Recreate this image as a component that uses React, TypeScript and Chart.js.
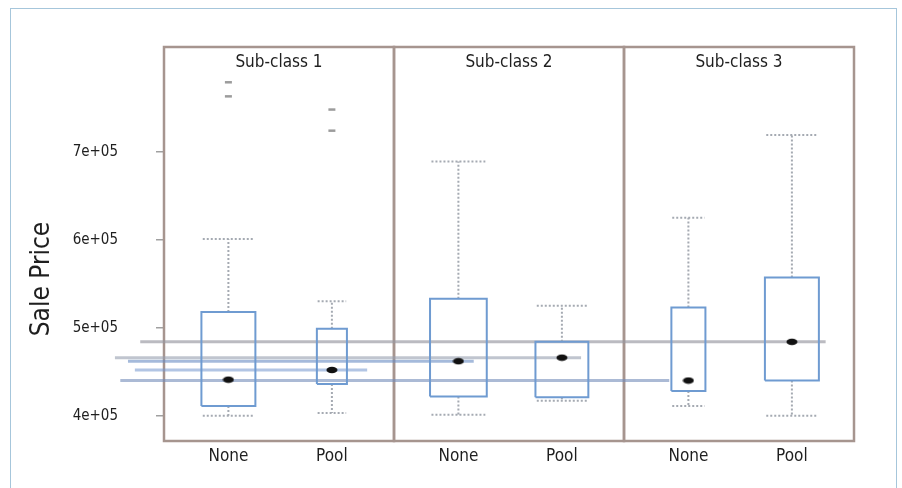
import React, { useEffect, useRef } from 'react';
import { Chart, registerables } from 'chart.js';

Chart.register(...registerables);

// ---------- data ----------
const panelTitles = ['Sub-class 1', 'Sub-class 2', 'Sub-class 3'];
const groupLabels = ['None', 'Pool'];
// one entry per box: Sub-class 1 None, Sub-class 1 Pool, Sub-class 2 None, ...
const whiskerLow = [400000, 403000, 401000, 417000, 411000, 400000];
const q1 = [411000, 436000, 422000, 421000, 428000, 440000];
const medians = [441000, 452000, 462000, 466000, 440000, 484000];
const q3 = [518000, 499000, 533000, 484000, 523000, 557000];
const whiskerHigh = [601000, 530000, 689000, 525000, 625000, 719000];
const outliers = [[779000, 763000], [748000, 724000], [], [], [], []];
const yTickValues = [400000, 500000, 600000, 700000];
const yTickLabels = ['4e+05', '5e+05', '6e+05', '7e+05'];
const yAxisTitle = 'Sale Price';
// boxes whose median carries a long horizontal guide line
const guideBoxes = [5, 3, 2, 1, 4];

// ---------- layout / style ----------
const PANEL_SPAN = 3;
const GROUP_OFFSET = [0.84, 2.19];
const BOX_HALF = [0.352, 0.196, 0.37, 0.345, 0.222, 0.352];
const GUIDE_SPAN = [[-0.31, 8.63], [-0.64, 5.44], [-0.47, 4.04], [-0.38, 2.65], [-0.57, 6.59]];
const GUIDE_COLORS = [
  'rgba(150,150,160,0.65)',
  'rgba(150,158,175,0.6)',
  'rgba(105,140,195,0.6)',
  'rgba(115,150,205,0.55)',
  'rgba(115,140,185,0.6)',
];
const BOX_COLOR = '#6f9bd1';
const WHISKER_COLOR = '#a5aab2';
const PANEL_COLOR = '#a6958f';
const TEXT_COLOR = '#1f1f1f';
const NARROW = '"Liberation Sans Narrow", "DejaVu Sans Condensed", sans-serif';
const COND = '"DejaVu Sans Condensed", "Liberation Sans Narrow", sans-serif';

const centerOf = (i: number) => Math.floor(i / 2) * PANEL_SPAN + GROUP_OFFSET[i % 2];

export default function App() {
  const ref = useRef<HTMLCanvasElement | null>(null);

  useEffect(() => {
    if (!ref.current) return;

    const dot = document.createElement('canvas');
    dot.width = 12;
    dot.height = 8;
    const dc = dot.getContext('2d')!;
    dc.fillStyle = '#111';
    dc.beginPath();
    dc.ellipse(6, 4, 5.5, 3.3, 0, 0, Math.PI * 2);
    dc.fill();

    const datasets: any[] = [];

    // guide lines through medians
    guideBoxes.forEach((b, k) => {
      datasets.push({
        type: 'line',
        data: [
          { x: GUIDE_SPAN[k][0], y: medians[b] },
          { x: GUIDE_SPAN[k][1], y: medians[b] },
        ],
        borderColor: GUIDE_COLORS[k],
        borderWidth: 3,
        pointRadius: 0,
        fill: false,
        clip: false,
        order: 6,
      });
    });

    medians.forEach((_, i) => {
      const c = centerOf(i);
      const h = BOX_HALF[i];
      const cap = h * 0.95;
      // whiskers (dashed) + caps
      datasets.push({
        type: 'line',
        data: [
          { x: c, y: q3[i] }, { x: c, y: whiskerHigh[i] }, { x: c, y: null },
          { x: c - cap, y: whiskerHigh[i] }, { x: c + cap, y: whiskerHigh[i] }, { x: c, y: null },
          { x: c, y: q1[i] }, { x: c, y: whiskerLow[i] }, { x: c, y: null },
          { x: c - cap, y: whiskerLow[i] }, { x: c + cap, y: whiskerLow[i] },
        ],
        borderColor: WHISKER_COLOR,
        borderWidth: 2,
        borderDash: [2, 2],
        pointRadius: 0,
        fill: false,
        spanGaps: false,
        order: 5,
      });
      // box
      datasets.push({
        type: 'line',
        data: [
          { x: c - h, y: q1[i] }, { x: c - h, y: q3[i] },
          { x: c + h, y: q3[i] }, { x: c + h, y: q1[i] }, { x: c - h, y: q1[i] },
        ],
        borderColor: BOX_COLOR,
        borderWidth: 2,
        pointRadius: 0,
        fill: false,
        order: 3,
      });
      // outliers
      if (outliers[i].length) {
        datasets.push({
          type: 'scatter',
          data: outliers[i].map((v) => ({ x: c, y: v })),
          pointStyle: 'line',
          pointRadius: 3.5,
          borderWidth: 2.5,
          borderColor: '#9c9c9c',
          order: 2,
        });
      }
    });

    // median dots
    datasets.push({
      type: 'scatter',
      data: medians.map((m, i) => ({ x: centerOf(i), y: m })),
      pointStyle: dot,
      pointRadius: 5,
      order: 1,
    });

    const xTickValues = medians.map((_, i) => centerOf(i));

    const panelPlugin = {
      id: 'panels',
      beforeDatasetsDraw(chart: any) {
        const { ctx, chartArea, scales } = chart;
        ctx.save();
        ctx.strokeStyle = PANEL_COLOR;
        ctx.lineWidth = 2.5;
        panelTitles.forEach((_, p) => {
          const l = scales.x.getPixelForValue(p * PANEL_SPAN);
          const r = scales.x.getPixelForValue((p + 1) * PANEL_SPAN);
          ctx.strokeRect(l, chartArea.top, r - l, chartArea.bottom - chartArea.top);
        });
        ctx.restore();
      },
      afterDraw(chart: any) {
        const { ctx, chartArea, scales } = chart;
        ctx.save();
        ctx.fillStyle = TEXT_COLOR;
        ctx.font = `17px ${NARROW}`;
        ctx.textAlign = 'center';
        ctx.textBaseline = 'middle';
        panelTitles.forEach((t, p) => {
          const cx = scales.x.getPixelForValue(p * PANEL_SPAN + PANEL_SPAN / 2);
          ctx.fillText(t, cx, chartArea.top + 16);
        });
        ctx.translate(42, 279);
        ctx.rotate(-Math.PI / 2);
        ctx.font = `26px ${NARROW}`;
        ctx.fillText(yAxisTitle, 0, 0);
        ctx.restore();
      },
    };

    const chart = new Chart(ref.current, {
      type: 'scatter',
      data: { datasets },
      options: {
        responsive: false,
        animation: false,
        devicePixelRatio: 1,
        layout: { padding: { left: 0, top: 37, right: 48, bottom: 0 } },
        plugins: { legend: { display: false }, tooltip: { enabled: false } },
        scales: {
          x: {
            type: 'linear',
            min: 0,
            max: PANEL_SPAN * panelTitles.length,
            afterBuildTicks: (s: any) => {
              s.ticks = xTickValues.map((v) => ({ value: v }));
            },
            afterFit: (s: any) => {
              s.height = 45;
            },
            ticks: {
              autoSkip: false,
              maxRotation: 0,
              padding: 5,
              color: TEXT_COLOR,
              font: { family: NARROW, size: 17 },
              callback: (_v: any, i: number) => groupLabels[i % 2],
            },
            grid: { display: false, drawTicks: false },
            border: { display: false },
          },
          y: {
            type: 'linear',
            min: 371300,
            max: 819100,
            afterBuildTicks: (s: any) => {
              s.ticks = yTickValues.map((v) => ({ value: v }));
            },
            afterFit: (s: any) => {
              s.width = 164;
            },
            ticks: {
              padding: 38,
              color: TEXT_COLOR,
              font: { family: COND, size: 15 },
              callback: (_v: any, i: number) => yTickLabels[i],
            },
            grid: {
              display: true,
              drawOnChartArea: false,
              drawTicks: true,
              tickLength: 8,
              color: '#a0a0a0',
              lineWidth: 1.5,
            },
            border: { display: false },
          },
        },
      },
      plugins: [panelPlugin],
    } as any);

    return () => chart.destroy();
  }, []);

  return (
    <div style={{ position: 'fixed', left: 0, top: 0, width: 902, height: 488, background: '#fff', overflow: 'hidden' }}>
      <div
        style={{
          position: 'absolute',
          left: 10,
          top: 8,
          width: 887,
          height: 500,
          border: '1.5px solid #a6c6db',
          boxSizing: 'border-box',
        }}
      />
      <canvas ref={ref} width={902} height={488} style={{ position: 'absolute', left: 0, top: 0 }} />
    </div>
  );
}
